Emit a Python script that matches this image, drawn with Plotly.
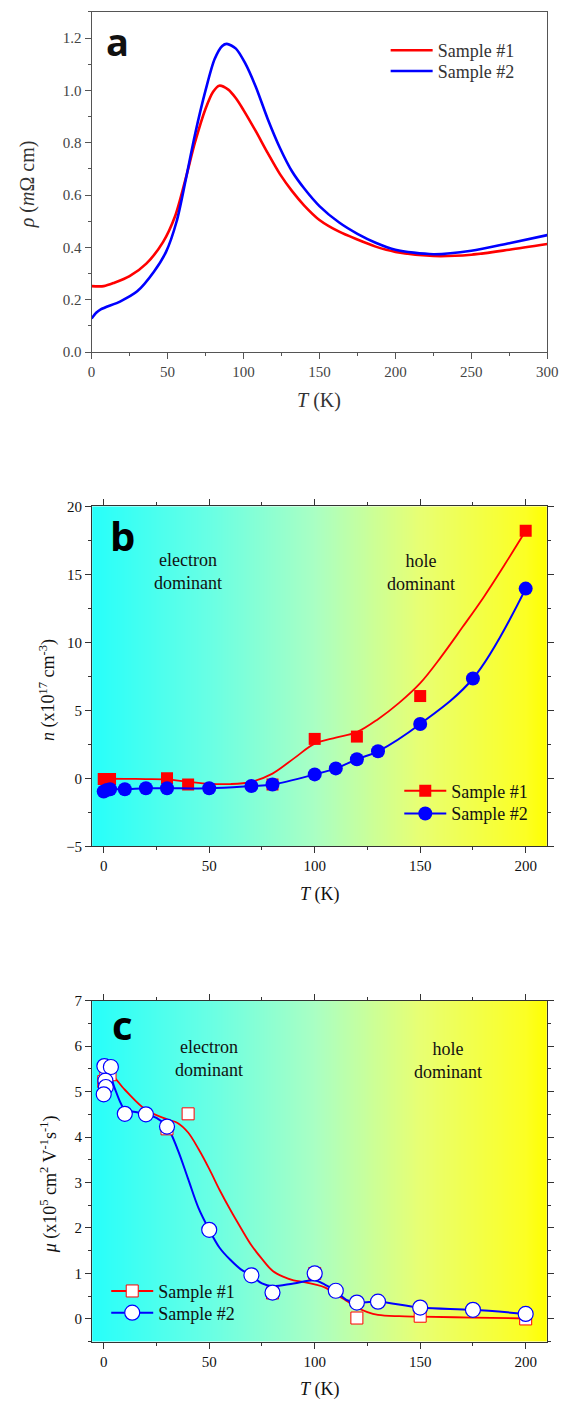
import numpy as np
import plotly.graph_objects as go

W, H = 568, 1409

# ---------------- Panel a: resistivity ----------------
Ta_s1 = [0, 8, 15, 25, 36, 47, 55, 62, 68, 75, 80, 84, 90, 95, 100, 108, 116, 124, 132, 140, 150, 163, 175, 187,
         200, 225, 250, 275, 300]
rho_s1 = [0.252, 0.252, 0.265, 0.29, 0.338, 0.42, 0.52, 0.665, 0.8, 0.93, 0.995, 1.018, 1.003, 0.97, 0.925, 0.845,
          0.76, 0.68, 0.615, 0.56, 0.505, 0.46, 0.43, 0.403, 0.383, 0.367, 0.372, 0.391, 0.413]
Ta_s2 = [0, 3, 6, 19, 30, 41, 49, 56, 62, 68, 75, 81, 86, 89, 95, 101, 108, 116, 124, 132, 140, 150, 163, 175,
         187, 200, 225, 250, 275, 300]
rho_s2 = [0.128, 0.15, 0.163, 0.194, 0.232, 0.307, 0.383, 0.5, 0.66, 0.83, 1.0, 1.12, 1.17, 1.178, 1.16, 1.105,
          1.015, 0.89, 0.78, 0.69, 0.625, 0.558, 0.495, 0.452, 0.418, 0.391, 0.374, 0.387, 0.416, 0.447]

# ---------------- Panel b: carrier density ----------------
Tb_s1 = [0, 3, 30, 40, 80, 100, 120, 150, 200]
n_s1 = [-0.05, -0.05, 0.0, -0.45, -0.45, 2.9, 3.07, 6.05, 18.2]
Tb_fit1 = [0, 10, 20, 30, 40, 50, 60, 70, 80, 90, 100, 110, 120, 130, 140, 150, 160, 170, 180, 190, 200]
n_fit1 = [-0.03, -0.04, -0.05, -0.08, -0.25, -0.4, -0.42, -0.25, 0.35, 1.45, 2.55, 3.0, 3.4, 4.35, 5.55, 7.0,
          8.95, 11.1, 13.3, 15.7, 18.2]
Tb_s2 = [0, 1.5, 3, 10, 20, 30, 50, 70, 80, 100, 110, 120, 130, 150, 175, 200]
n_s2 = [-0.97, -0.85, -0.8, -0.8, -0.73, -0.73, -0.73, -0.56, -0.45, 0.29, 0.73, 1.4, 1.99, 4.0, 7.34, 13.95]

# ---------------- Panel c: mobility ----------------
Tc_s1 = [0, 1, 3, 30, 40, 80, 100, 120, 150, 200]
mu_s1 = [5.22, 5.3, 5.37, 4.18, 4.51, 0.57, 1.0, 0.02, 0.06, 0.0]
Tc_fit1 = [0, 3, 10, 20, 30, 35, 40, 45, 50, 55, 60, 65, 70, 75, 80, 85, 90, 95, 100, 105, 110, 115, 120, 125,
           130, 140, 150, 175, 200]
mu_fit1 = [5.3, 5.38, 5.04, 4.6, 4.39, 4.31, 4.1, 3.73, 3.3, 2.83, 2.4, 2.0, 1.62, 1.32, 1.06, 0.93, 0.85, 0.81,
           0.76, 0.69, 0.54, 0.4, 0.25, 0.15, 0.09, 0.06, 0.05, 0.03, 0.01]
Tc_s2 = [0.3, 3.4, 0.8, 1.0, 0.0, 10, 20, 30, 50, 70, 80, 100, 110, 120, 130, 150, 175, 200]
mu_s2 = [5.56, 5.54, 5.24, 5.1, 4.94, 4.51, 4.5, 4.23, 1.96, 0.96, 0.58, 1.0, 0.62, 0.36, 0.38, 0.25, 0.2, 0.11]
Tc_fit2 = [1, 3, 5, 8, 10, 15, 20, 25, 30, 35, 40, 45, 50, 55, 60, 65, 70, 75, 80, 90, 100, 105, 110, 115, 120,
           130, 150, 175, 200]
mu_fit2 = [5.35, 5.33, 5.1, 4.75, 4.6, 4.55, 4.5, 4.42, 4.23, 3.73, 3.08, 2.43, 1.96, 1.56, 1.3, 1.09, 0.96, 0.78,
           0.72, 0.78, 0.85, 0.75, 0.62, 0.42, 0.36, 0.38, 0.25, 0.2, 0.11]

# background gradient (cyan -> green -> yellow)
bg_scale = [[0.0, "rgb(40,255,250)"], [0.258, "rgb(105,255,228)"], [0.49, "rgb(170,255,195)"],
            [0.72, "rgb(232,255,115)"], [0.954, "rgb(252,255,35)"], [1.0, "rgb(255,255,0)"]]

XR_BC = [-5.5, 210]
YR_B = [-5, 20]
YR_C = [-0.5, 7]

RED = "#ff0000"
BLUE = "#0000ff"
SERIF = "Liberation Serif, Tinos, 'Times New Roman', 'DejaVu Serif', serif"
SANS_B = "'Open Sans', 'Liberation Sans', sans-serif"


def px(x):
    return x / W


def py(y):
    return 1 - y / H


fig = go.Figure()

# Panel a
fig.add_trace(go.Scatter(x=Ta_s1, y=rho_s1, mode="lines", name="Sample #1",
                         line=dict(color=RED, width=2.6, shape="spline", smoothing=0.8),
                         xaxis="x", yaxis="y", legend="legend"))
fig.add_trace(go.Scatter(x=Ta_s2, y=rho_s2, mode="lines", name="Sample #2",
                         line=dict(color=BLUE, width=2.6, shape="spline", smoothing=0.8),
                         xaxis="x", yaxis="y", legend="legend4"))

# Panel b background
bgx = np.linspace(XR_BC[0], XR_BC[1], 80)
fig.add_trace(go.Heatmap(x=bgx, y=YR_B, z=[bgx, bgx], colorscale=bg_scale, showscale=False, zsmooth="best",
                         hoverinfo="skip", xaxis="x2", yaxis="y2"))
fig.add_trace(go.Scatter(x=Tb_fit1, y=n_fit1, mode="lines", line=dict(color=RED, width=1.8, shape="spline"),
                         showlegend=False, xaxis="x2", yaxis="y2"))
fig.add_trace(go.Scatter(x=Tb_s1, y=n_s1, mode="markers", marker=dict(symbol="square", size=12, color=RED),
                         showlegend=False, xaxis="x2", yaxis="y2"))
fig.add_trace(go.Scatter(x=Tb_s2, y=n_s2, mode="lines+markers", line=dict(color=BLUE, width=2, shape="spline"),
                         marker=dict(symbol="circle", size=14, color=BLUE), showlegend=False, xaxis="x2", yaxis="y2"))
fig.add_trace(go.Scatter(x=[None], y=[None], mode="lines+markers", name="Sample #1", line=dict(color=RED, width=2),
                         marker=dict(symbol="square", size=12, color=RED), xaxis="x2", yaxis="y2", legend="legend2"))
fig.add_trace(go.Scatter(x=[None], y=[None], mode="lines+markers", name="Sample #2", line=dict(color=BLUE, width=2),
                         marker=dict(symbol="circle", size=14, color=BLUE), xaxis="x2", yaxis="y2", legend="legend5"))

# Panel c background
fig.add_trace(go.Heatmap(x=bgx, y=YR_C, z=[bgx, bgx], colorscale=bg_scale, showscale=False, zsmooth="best",
                         hoverinfo="skip", xaxis="x3", yaxis="y3"))
fig.add_trace(go.Scatter(x=Tc_fit1, y=mu_fit1, mode="lines", line=dict(color=RED, width=1.8, shape="spline"),
                         showlegend=False, xaxis="x3", yaxis="y3"))
fig.add_trace(go.Scatter(x=Tc_fit2, y=mu_fit2, mode="lines", line=dict(color=BLUE, width=2, shape="spline"),
                         showlegend=False, xaxis="x3", yaxis="y3"))
fig.add_trace(go.Scatter(x=Tc_s1, y=mu_s1, mode="markers",
                         marker=dict(symbol="square", size=12, color="white", line=dict(color=RED, width=1)),
                         showlegend=False, xaxis="x3", yaxis="y3"))
fig.add_trace(go.Scatter(x=Tc_s2, y=mu_s2, mode="markers",
                         marker=dict(symbol="circle", size=15, color="white", line=dict(color=BLUE, width=1.2)),
                         showlegend=False, xaxis="x3", yaxis="y3"))
fig.add_trace(go.Scatter(x=[None], y=[None], mode="lines+markers", name="Sample #1", line=dict(color=RED, width=2),
                         marker=dict(symbol="square", size=12, color="white", line=dict(color=RED, width=1)),
                         xaxis="x3", yaxis="y3", legend="legend3"))
fig.add_trace(go.Scatter(x=[None], y=[None], mode="lines+markers", name="Sample #2", line=dict(color=BLUE, width=2),
                         marker=dict(symbol="circle", size=15, color="white", line=dict(color=BLUE, width=1.2)),
                         xaxis="x3", yaxis="y3", legend="legend6"))


def xax(domain, rng, anchor, mirror, lc, fc):
    return dict(domain=domain, range=rng, anchor=anchor, showgrid=False, zeroline=False, showline=True,
                linecolor=lc, linewidth=1, mirror=mirror, ticks="outside", ticklen=6, tickwidth=1, tickcolor=lc,
                dtick=50, tick0=0, tickfont=dict(family=SERIF, size=15, color=fc), ticklabeloverflow="allow",
                minor=dict(ticks="outside", ticklen=3, dtick=25, tick0=0, tickcolor=lc))


def yax(domain, rng, anchor, mirror, lc, fc, dtick, mdtick, fmt=None):
    d = dict(domain=domain, range=rng, anchor=anchor, showgrid=False, zeroline=False, showline=True,
             linecolor=lc, linewidth=1, mirror=mirror, ticks="outside", ticklen=6, tickwidth=1, tickcolor=lc,
             dtick=dtick, tick0=0, tickfont=dict(family=SERIF, size=15, color=fc),
             minor=dict(ticks="outside", ticklen=3, dtick=mdtick, tick0=0, tickcolor=lc))
    if fmt:
        d["tickformat"] = fmt
    return d


xa_dom = [px(90), px(558)]
xbc_dom = [px(90.5), px(557.5)]


def ann(text, x, y, size, color="#111", family=SERIF, xref="paper", yref="paper", angle=0):
    if xref == "paper":
        x = px(x)
    if yref == "paper":
        y = py(y)
    return dict(text=text, x=x, y=y, xref=xref, yref=yref, showarrow=False, xanchor="center", yanchor="middle",
                textangle=angle, font=dict(family=family, size=size, color=color))


annotations = [
    # panel letters
    ann("<b>a</b>", 117, 33, 38, "#111", SANS_B),
    ann("<b>b</b>", 122, 534, 40, "#000", SANS_B),
    ann("<b>c</b>", 122, 1028, 40, "#000", SANS_B),
    # axis titles
    ann("<i>ρ</i> (<i>m</i>Ω cm)", 25, 178, 20, "#333", angle=-90),
    ann("<i>T</i> (K)", 324, 397, 20, "#333"),
    ann("<i>n</i> (x10<sup>17</sup> cm<sup>-3</sup>)", 45, 690, 18, angle=-90),
    ann("<i>T</i> (K)", 325, 897, 18),
    ann("<i>μ</i> (x10<sup>5</sup> cm<sup>2</sup> V<sup>-1</sup>s<sup>-1</sup>)", 47, 1190, 18, angle=-90),
    ann("<i>T</i> (K)", 325, 1397, 18),
    # region labels
    ann("electron<br>dominant", 40, 15.2, 18, xref="x2", yref="y2"),
    ann("hole<br>dominant", 150.5, 15.15, 18, xref="x2", yref="y2"),
    ann("electron<br>dominant", 50, 5.73, 18, xref="x3", yref="y3"),
    ann("hole<br>dominant", 163, 5.68, 18, xref="x3", yref="y3"),
]


def leg(x, y, color):
    return dict(x=px(x), y=py(y), xanchor="left", yanchor="middle", bgcolor="rgba(0,0,0,0)",
                font=dict(family=SERIF, size=18, color=color), itemwidth=42)


fig.update_layout(
    width=W, height=H, margin=dict(l=0, r=0, t=0, b=0),
    paper_bgcolor="white", plot_bgcolor="white",
    font=dict(family=SERIF),
    xaxis=xax(xa_dom, [0, 300], "y", True, "#555", "#444"),
    yaxis=yax([py(348), py(4)], [0, 1.3], "x", True, "#555", "#444", 0.2, 0.1, ".1f"),
    xaxis2=xax(xbc_dom, XR_BC, "y2", "allticks", "#333", "#111"),
    yaxis2=yax([py(848), py(504)], YR_B, "x2", "allticks", "#333", "#111", 5, 2.5),
    xaxis3=xax(xbc_dom, XR_BC, "y3", "allticks", "#333", "#111"),
    yaxis3=yax([py(1349), py(1004)], YR_C, "x3", "allticks", "#333", "#111", 1, 0.5),
    legend=leg(392, 43, "#333"),
    legend4=leg(392, 64, "#333"),
    legend2=leg(406, 792, "#111"),
    legend5=leg(406, 815, "#111"),
    legend3=leg(105, 1298, "#111"),
    legend6=leg(105, 1320, "#111"),
    annotations=annotations,
)

fig.write_html("out.html")
